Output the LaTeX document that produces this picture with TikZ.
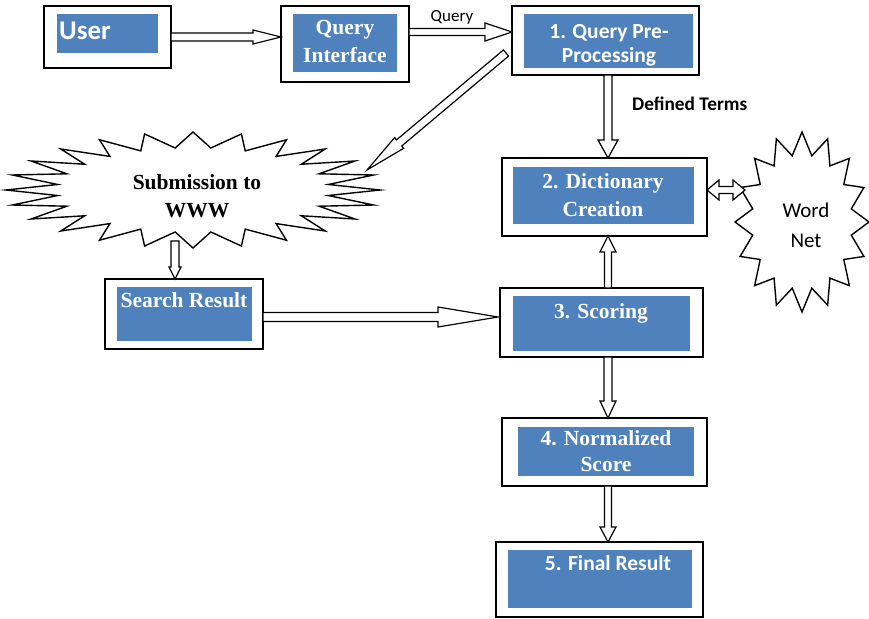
\documentclass[tikz,border=0pt]{standalone}
\usepackage{fontspec}
\setmainfont{Liberation Serif}
\newfontfamily\calibri{Carlito}
\usetikzlibrary{calc}
\definecolor{boxblue}{RGB}{79,129,189}

\tikzset{
  outerbox/.style={draw=black, line width=1.6pt, fill=white, inner sep=0pt, outer sep=0pt},
  innerbox/.style={fill=boxblue, inner sep=0pt, outer sep=0pt},
  serifwhite/.style={text=white, font=\bfseries\fontsize{21.5}{28}\selectfont, align=center, inner sep=0pt, anchor=base},
  sanswhite/.style={text=white, font=\calibri\bfseries\fontsize{21.5}{24}\selectfont, align=center, inner sep=0pt, anchor=base},
  plainlabel/.style={text=black, inner sep=0pt, anchor=base},
  arrowbody/.style={draw=black, line width=1.2pt, fill=white, line join=miter},
  starline/.style={draw=black, line width=1.4pt, fill=white, line join=miter},
}

% hollow block arrow: start, tip, shaft half width, head half width, head length
\newcommand{\blockarrow}[5]{%
  \coordinate (baS) at (#1);
  \coordinate (baE) at (#2);
  \coordinate (baH) at ($(baE)!#5!(baS)$);
  \draw[arrowbody] ($(baS)!#3!90:(baE)$) -- ($(baH)!#3!90:(baE)$) -- ($(baH)!#4!90:(baE)$)
    -- (baE) -- ($(baH)!#4!-90:(baE)$) -- ($(baH)!#3!-90:(baE)$) -- ($(baS)!#3!-90:(baE)$) -- cycle;
}
% hollow block arrow with a head at both ends
\newcommand{\dblblockarrow}[5]{%
  \coordinate (baS) at (#1);
  \coordinate (baE) at (#2);
  \coordinate (baA) at ($(baS)!#5!(baE)$);
  \coordinate (baB) at ($(baE)!#5!(baS)$);
  \draw[arrowbody] (baS) -- ($(baA)!#4!90:(baE)$) -- ($(baA)!#3!90:(baE)$) -- ($(baB)!#3!90:(baE)$)
    -- ($(baB)!#4!90:(baE)$) -- (baE) -- ($(baB)!#4!-90:(baE)$) -- ($(baB)!#3!-90:(baE)$)
    -- ($(baA)!#3!-90:(baE)$) -- ($(baA)!#4!-90:(baE)$) -- cycle;
}

\begin{document}
\begin{tikzpicture}[x=1pt,y=-1pt]
\useasboundingbox (0,0) rectangle (869,618);

% ---- starbursts ----
\draw[starline] (380,190) \foreach \k in {1,...,47}{
  -- ({193+187*(1-0.27*mod(\k,2))*cos(7.5*\k)}, {190+58*(1-0.27*mod(\k,2))*sin(7.5*\k)})} -- cycle;
\node[plainlabel, anchor=center, align=center, font=\bfseries\fontsize{21.5}{28}\selectfont]
  (www) at (197,196) {Submission to\\WWW};
\coordinate (wwwNE) at (367,170);
\coordinate (wwwS) at (175,241);

\draw[starline] (869,222) \foreach \k in {1,...,31}{
  -- ({802+67*(1-0.25*mod(\k,2))*cos(11.25*\k)}, {222+90*(1-0.25*mod(\k,2))*sin(11.25*\k)})} -- cycle;
\node[plainlabel, anchor=center, align=center, font=\calibri\fontsize{21}{30}\selectfont]
  (wordnet) at (806,225) {Word\\Net};
\coordinate (wnW) at (745,190);

% ---- boxes (base anchor = baseline of the last line) ----
\node[outerbox, minimum width=127pt, minimum height=62pt] (user) at (107.5,37) {};
\node[innerbox, minimum width=101pt, minimum height=39pt] (userin) at (107.5,33.5) {};
\node[sanswhite, anchor=base west, font=\calibri\bfseries\fontsize{27}{30}\selectfont] at (59,40) {User};

\node[outerbox, minimum width=128pt, minimum height=76pt] (qi) at (345,44) {};
\node[innerbox, minimum width=104pt, minimum height=58pt] (qiin) at (345,43) {};
\node[serifwhite] at (345,63) {Query\\Interface};

\node[outerbox, minimum width=187pt, minimum height=69pt] (qpp) at (605.5,40.5) {};
\node[innerbox, minimum width=169pt, minimum height=54pt] (qppin) at (608.5,41) {};
\node[sanswhite] at (609,63) {1. Query Pre-\\Processing};

\node[outerbox, minimum width=205pt, minimum height=78pt] (dict) at (604.5,197) {};
\node[innerbox, minimum width=181pt, minimum height=57pt] (dictin) at (603.5,195.5) {};
\node[serifwhite] at (603,216) {2. Dictionary\\Creation};

\node[outerbox, minimum width=203pt, minimum height=69pt] (scoring) at (601.5,322.5) {};
\node[innerbox, minimum width=177pt, minimum height=55pt] (scoringin) at (601.5,323.5) {};
\node[serifwhite] at (601,318) {3. Scoring};

\node[outerbox, minimum width=205pt, minimum height=68pt] (norm) at (604.5,452) {};
\node[innerbox, minimum width=176pt, minimum height=49pt] (normin) at (606,451.5) {};
\node[serifwhite, font=\bfseries\fontsize{21.5}{26}\selectfont] at (606,471) {4. Normalized\\Score};

\node[outerbox, minimum width=207pt, minimum height=75pt] (final) at (599.5,579.5) {};
\node[innerbox, minimum width=184pt, minimum height=58pt] (finalin) at (600,579) {};
\node[sanswhite] at (608,570) {5. Final Result};

\node[outerbox, minimum width=158pt, minimum height=70pt] (search) at (184,314) {};
\node[innerbox, minimum width=135pt, minimum height=54pt] (searchin) at (184.5,314) {};
\node[serifwhite] at (184,307) {Search Result};

% ---- free labels ----
\node[plainlabel, font=\calibri\fontsize{17}{20}\selectfont] (querylbl) at (452,22) {Query};
\node[plainlabel, anchor=base west, font=\calibri\bfseries\fontsize{19.3}{22}\selectfont] (deflbl) at (632,110) {Defined Terms};

% ---- connectors ----
\blockarrow{user.east}{qi.west |- user.east}{4pt}{7pt}{28pt}
\blockarrow{$(qi.east)+(0,-12)$}{$(qpp.west)+(0,-8.5)$}{3.5pt}{9pt}{27pt}
\blockarrow{$(qpp.west)+(-6,12.5)$}{wwwNE}{4pt}{7pt}{42pt}
\blockarrow{$(qpp.south)+(2.5,0)$}{$(dict.north)+(3.5,0)$}{4pt}{10pt}{18pt}
\dblblockarrow{$(dict.east)+(0,-7)$}{wnW}{3.5pt}{10pt}{12pt}
\blockarrow{$(scoring.north)+(6.5,0)$}{$(dict.south)+(3.5,0)$}{3.5pt}{8pt}{16pt}
\blockarrow{$(scoring.south)+(6.5,0)$}{$(norm.north)+(3.5,0)$}{4pt}{8pt}{17pt}
\blockarrow{$(norm.south)+(3.5,0)$}{$(final.north)+(8.5,0)$}{3.5pt}{8pt}{15pt}
\blockarrow{wwwS}{$(search.north)+(-9,0)$}{4pt}{6pt}{12pt}
\blockarrow{$(search.east)+(0,3)$}{$(scoring.west)+(-2,-5.5)$}{4.5pt}{10pt}{60pt}
\end{tikzpicture}
\end{document}
